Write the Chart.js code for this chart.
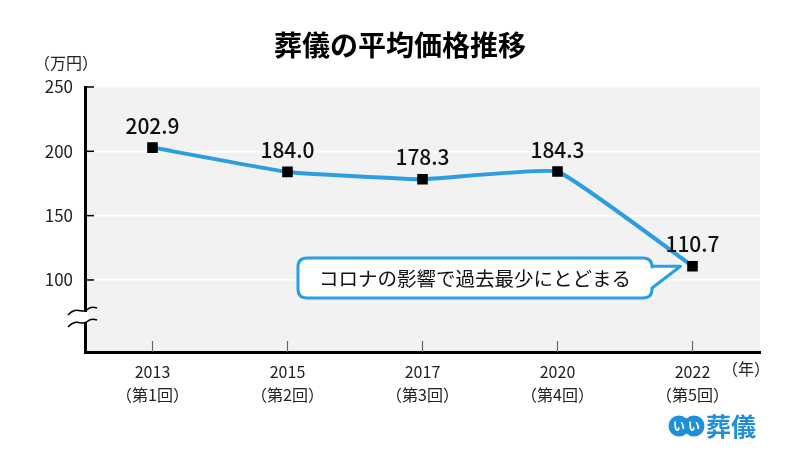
<!DOCTYPE html>
<html lang="ja">
<head>
<meta charset="utf-8">
<script src="https://cdn.jsdelivr.net/npm/chart.js@4.4.1/dist/chart.umd.min.js"></script>
<style>
  html, body { margin: 0; padding: 0; background: #fff; }
  #wrap { width: 800px; height: 467px; }
</style>
</head>
<body>
<div id="wrap"><canvas id="funeralChart" width="800" height="467"></canvas></div>
<script>
// data
const years = ['2013', '2015', '2017', '2020', '2022'];
const rounds = ['（第1回）', '（第2回）', '（第3回）', '（第4回）', '（第5回）'];
const prices = [202.9, 184.0, 178.3, 184.3, 110.7];
const yTicks = [100, 150, 200, 250];

const FONT = '"Noto Sans CJK JP", "Noto Sans", sans-serif';
const BLUE = '#2a9ee0';

// extra drawing: background, tick marks, axis break, labels, callout, logo
const decor = {
  id: 'decor',
  beforeDraw(chart) {
    const { ctx, chartArea: a } = chart;
    ctx.save();
    ctx.fillStyle = '#f2f2f2';
    ctx.fillRect(a.left, a.top, a.right - a.left, a.bottom - a.top);
    ctx.restore();
  },
  afterDatasetsDraw(chart) {
    const { ctx, chartArea: a, scales } = chart;
    const xs = scales.x, ys = scales.y;
    ctx.save();

    // y tick marks (inside)
    ctx.strokeStyle = '#000';
    ctx.lineWidth = 1.5;
    yTicks.forEach(v => {
      const y = ys.getPixelForValue(v);
      ctx.beginPath(); ctx.moveTo(a.left, y); ctx.lineTo(a.left + 9, y); ctx.stroke();
    });
    // x tick marks (inside)
    ctx.strokeStyle = '#666';
    ctx.lineWidth = 1.2;
    years.forEach((_, i) => {
      const x = xs.getPixelForValue(i);
      ctx.beginPath(); ctx.moveTo(x, a.bottom); ctx.lineTo(x, a.bottom - 11); ctx.stroke();
    });

    // axis break
    const bx = a.left, y1 = 311, y2 = 323;
    const wave = (y) => {
      ctx.moveTo(bx - 17, y + 4);
      ctx.bezierCurveTo(bx - 8, y - 6, bx - 3, y + 4, bx + 3, y - 2);
      ctx.bezierCurveTo(bx + 6, y - 5, bx + 9, y - 4, bx + 12, y - 3);
    };
    ctx.fillStyle = '#fff';
    ctx.beginPath();
    ctx.rect(bx - 3, y1 + 1, 6, y2 - y1 - 2);
    ctx.fill();
    ctx.strokeStyle = '#000';
    ctx.lineWidth = 1.6;
    ctx.beginPath(); wave(y1); ctx.stroke();
    ctx.beginPath(); wave(y2); ctx.stroke();

    // value labels above points
    ctx.fillStyle = '#111';
    ctx.font = '500 21px ' + FONT;
    ctx.textAlign = 'center';
    ctx.textBaseline = 'middle';
    const meta = chart.getDatasetMeta(0);
    meta.data.forEach((pt, i) => {
      ctx.fillText(prices[i].toFixed(1), pt.x, pt.y - 22);
    });

    // callout pointing at the last point
    const last = meta.data[prices.length - 1];
    const tipX = last.x - 12, tipY = last.y;
    const L = 298, R = 652, T = 258, B = 298, r = 9;
    ctx.beginPath();
    ctx.moveTo(L + r, T);
    ctx.lineTo(R - r, T);
    ctx.quadraticCurveTo(R, T, R, T + r);
    ctx.lineTo(R, T + 8);
    ctx.lineTo(tipX, tipY);
    ctx.lineTo(R, T + 30);
    ctx.lineTo(R, B - r);
    ctx.quadraticCurveTo(R, B, R - r, B);
    ctx.lineTo(L + r, B);
    ctx.quadraticCurveTo(L, B, L, B - r);
    ctx.lineTo(L, T + r);
    ctx.quadraticCurveTo(L, T, L + r, T);
    ctx.closePath();
    ctx.fillStyle = '#fff';
    ctx.fill();
    ctx.strokeStyle = BLUE;
    ctx.lineWidth = 3;
    ctx.lineJoin = 'round';
    ctx.stroke();
    ctx.fillStyle = '#111';
    ctx.font = '19.5px ' + FONT;
    ctx.fillText('コロナの影響で過去最少にとどまる', 475, 279);

    ctx.restore();
  },
  afterDraw(chart) {
    const { ctx } = chart;
    ctx.save();
    ctx.textBaseline = 'middle';

    // title
    ctx.fillStyle = '#000';
    ctx.textAlign = 'center';
    ctx.font = 'bold 28px ' + FONT;
    ctx.fillText('葬儀の平均価格推移', 400, 45);

    // units
    ctx.font = '16px ' + FONT;
    ctx.fillStyle = '#222';
    ctx.textAlign = 'left';
    ctx.fillText('（万円）', 34, 63);
    ctx.fillText('（年）', 722, 369);

    // logo
    ctx.fillStyle = '#1f8fdc';
    [679, 694].forEach(cx => {
      ctx.beginPath(); ctx.arc(cx, 426, 10.5, 0, Math.PI * 2); ctx.fill();
    });
    ctx.fillStyle = '#fff';
    ctx.font = 'bold 12px ' + FONT;
    ctx.textAlign = 'center';
    ctx.fillText('い', 679, 426);
    ctx.fillText('い', 694, 426);
    ctx.fillStyle = '#1f8fdc';
    ctx.font = 'bold 25px ' + FONT;
    ctx.textAlign = 'left';
    ctx.fillText('葬儀', 706, 426);

    ctx.restore();
  }
};

const ctx = document.getElementById('funeralChart').getContext('2d');
const funeralChart = new Chart(ctx, {
  type: 'line',
  data: {
    labels: years.map((y, i) => [y, rounds[i]]),
    datasets: [{
      data: prices,
      borderColor: BLUE,
      borderWidth: 4,
      tension: 0.1,
      pointStyle: 'rect',
      pointRadius: 7.5,
      pointBackgroundColor: '#000',
      pointBorderColor: '#000',
      pointBorderWidth: 0
    }]
  },
  options: {
    responsive: false,
    animation: false,
    events: [],
    layout: { padding: { top: 87, right: 40, left: 0, bottom: 0 } },
    plugins: { legend: { display: false }, tooltip: { enabled: false } },
    scales: {
      x: {
        offset: true,
        grid: { display: false, drawTicks: false },
        border: { display: true, color: '#000', width: 3 },
        ticks: {
          color: '#222',
          padding: 9,
          font: { family: FONT, size: 16, lineHeight: 1.4 }
        },
        afterFit(scale) { scale.height = 115; }
      },
      y: {
        min: 44,
        max: 250,
        afterBuildTicks(scale) { scale.ticks = yTicks.map(v => ({ value: v })); },
        grid: { color: '#fff', lineWidth: 1.5, drawTicks: false },
        border: { display: true, color: '#000', width: 3 },
        ticks: {
          color: '#222',
          padding: 12,
          font: { family: FONT, size: 17 }
        },
        afterFit(scale) { scale.width = 85; }
      }
    }
  },
  plugins: [decor]
});
</script>
</body>
</html>
